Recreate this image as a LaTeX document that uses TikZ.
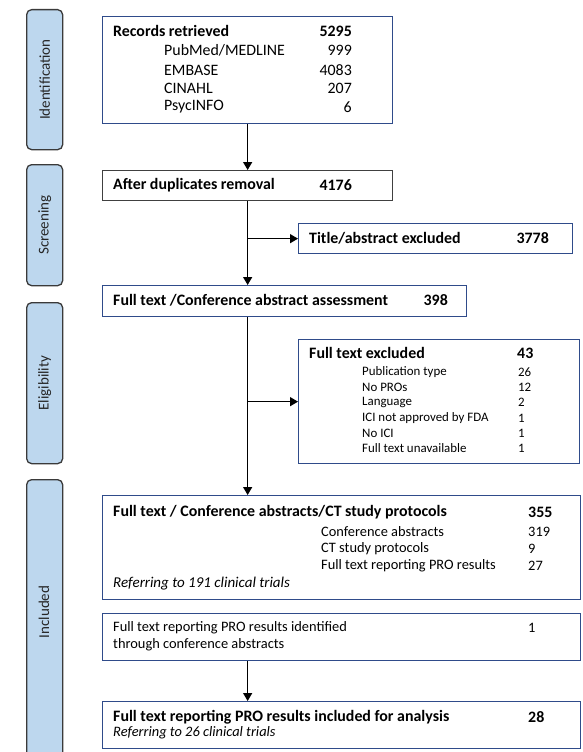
\documentclass[tikz,border=0pt]{standalone}
\usepackage{fontspec}
\setmainfont{Carlito}
\usetikzlibrary{arrows.meta}
\definecolor{bandfill}{HTML}{BDD7EE}
\definecolor{bandline}{HTML}{3A3A3A}
\definecolor{boxblue}{HTML}{2F4B8A}
\definecolor{boxgray}{HTML}{404040}
\tikzset{
  band/.style={draw=bandline, fill=bandfill, line width=1.3pt, rounded corners=5pt, anchor=north west, inner sep=0pt},
  bandtext/.style={rotate=90, font=\fontsize{15}{17}\selectfont, text=black!85},
  flowbox/.style={draw=boxblue, line width=1.3pt, anchor=north west, inner sep=0pt},
  graybox/.style={draw=boxgray, line width=1.3pt, anchor=north west, inner sep=0pt},
  tl/.style={anchor=west, inner sep=0pt},
  tr/.style={anchor=east, inner sep=0pt},
  big/.style={font=\fontsize{15.9}{18}\selectfont\bfseries},
  mid/.style={font=\fontsize{15.9}{18}\selectfont},
  small/.style={font=\fontsize{12.9}{15}\selectfont},
  med/.style={font=\fontsize{14.4}{17}\selectfont},
  ital/.style={font=\fontsize{14.4}{17}\selectfont\itshape},
  conn/.style={line width=1.4pt, -{Triangle[length=8pt,width=9pt]}}
}
\begin{document}
\begin{tikzpicture}[x=1pt,y=-1pt]
\useasboundingbox (0,0) rectangle (582,752);
% side bands
\node[band, minimum width=36pt, minimum height=140pt] (bid) at (26,9) {};
\node[bandtext] (tid) at (bid.center) {Identification};
\node[band, minimum width=36pt, minimum height=121pt] (bsc) at (26,164) {};
\node[bandtext] (tsc) at (bsc.center) {Screening};
\node[band, minimum width=36pt, minimum height=161pt] (bel) at (26,302) {};
\node[bandtext] (tel) at (bel.center) {Eligibility};
\node[band, minimum width=36pt, minimum height=290pt] (bin) at (26,479) {};
\node[bandtext] (tin) at (26+18,612) {Included};

% box 1
\node[flowbox, minimum width=290pt, minimum height=107pt] (b1) at (102,16) {};
\node[tl, big] (b1t) at (113,31) {Records retrieved};
\node[tr, big] (b1n) at (352,31) {5295};
\node[tl, mid] (b1a) at (164,50) {PubMed/MEDLINE};
\node[tr, mid] (b1an) at (352,50) {999};
\node[tl, mid] (b1b) at (164,70) {EMBASE};
\node[tr, mid] (b1bn) at (352,70) {4083};
\node[tl, mid] (b1c) at (164,88) {CINAHL};
\node[tr, mid] (b1cn) at (352,88) {207};
\node[tl, mid] (b1d) at (164,107) {PsycINFO};
\node[tr, mid] (b1dn) at (352,107) {6};

% box 2
\node[graybox, minimum width=290pt, minimum height=30pt] (b2) at (102,170) {};
\node[tl, big] (b2t) at (113,185) {After duplicates removal};
\node[tr, big] (b2n) at (352,185) {4176};

% title excluded
\node[flowbox, minimum width=274pt, minimum height=30pt] (bx1) at (298,223) {};
\node[tl, big] (bx1t) at (309,238) {Title/abstract excluded};
\node[tr, big] (bx1n) at (549,238) {3778};

% box 3
\node[flowbox, minimum width=364pt, minimum height=31pt] (b3) at (102,285) {};
\node[tl, big] (b3t) at (113,300.5) {Full text /Conference abstract assessment};
\node[tr, big] (b3n) at (448,300.5) {398};

% full text excluded
\node[flowbox, minimum width=281pt, minimum height=124pt] (bx2) at (298,339) {};
\node[tl, big] (bx2t) at (309,353) {Full text excluded};
\node[tl, big] (bx2n) at (517,353) {43};
\node[tl, small] (e1) at (362,372) {Publication type};
\node[tl, small] (e1n) at (518,372) {26};
\node[tl, small] (e2) at (362,387) {No PROs};
\node[tl, small] (e2n) at (518,387) {12};
\node[tl, small] (e3) at (362,402) {Language};
\node[tl, small] (e3n) at (518,402) {2};
\node[tl, small] (e4) at (362,418) {ICI not approved by FDA};
\node[tl, small] (e4n) at (518,418) {1};
\node[tl, small] (e5) at (362,433) {No ICI};
\node[tl, small] (e5n) at (518,433) {1};
\node[tl, small] (e6) at (362,448) {Full text unavailable};
\node[tl, small] (e6n) at (518,448) {1};

% box 4
\node[flowbox, minimum width=478pt, minimum height=104pt] (b4) at (102,495) {};
\node[tl, big] (b4t) at (113,512) {Full text / Conference abstracts/CT study protocols};
\node[tl, big] (b4n) at (528,512) {355};
\node[tl, med] (c1) at (321,532) {Conference abstracts};
\node[tl, med] (c1n) at (528,532) {319};
\node[tl, med] (c2) at (321,549) {CT study protocols};
\node[tl, med] (c2n) at (528,549) {9};
\node[tl, med] (c3) at (321,566) {Full text reporting PRO results};
\node[tl, med] (c3n) at (528,566) {27};
\node[tl, ital, font=\fontsize{15}{17}\selectfont\itshape] (c4) at (113,584) {Referring to 191 clinical trials};

% box 5
\node[flowbox, minimum width=478pt, minimum height=47pt] (b5) at (102,613) {};
\node[tl, med] (d1) at (113,628) {Full text reporting PRO results identified};
\node[tl, med] (d2) at (113,645) {through conference abstracts};
\node[tl, med] (d1n) at (528,628) {1};

% box 6
\node[flowbox, minimum width=478pt, minimum height=47pt] (b6) at (102,701) {};
\node[tl, big] (f1) at (113,717) {Full text reporting PRO results included for analysis};
\node[tl, big] (f1n) at (528,717) {28};
\node[tl, ital] (f2) at (113,733) {Referring to 26 clinical trials};

% connectors
\draw[conn] (b1.south) -- (b2.north);
\draw[conn] (b2.south) -- (b2.south |- b3.north);
\coordinate (j1) at (b2.south |- bx1.west);
\draw[conn] (j1) -- (bx1.west);
\draw[conn] (b3.south -| b1.south) -- (b4.north -| b1.south);
\coordinate (j2) at (b1.south |- bx2.west);
\draw[conn] (j2) -- (bx2.west);
\draw[conn] (b5.south -| b1.south) -- (b6.north -| b1.south);
\end{tikzpicture}
\end{document}
